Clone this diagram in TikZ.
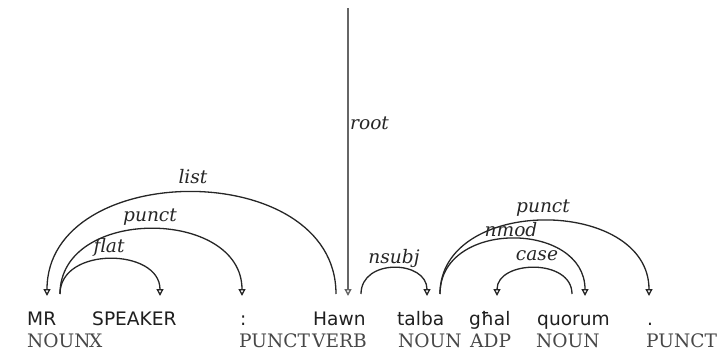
\documentclass[tikz,border=0pt]{standalone}
\usepackage{fontspec}
\setmainfont{DejaVu Serif}
\setsansfont{DejaVu Sans}
\usetikzlibrary{arrows.meta}
\begin{document}
\begin{tikzpicture}[x=1pt,y=-1pt,
  word/.style={anchor=base west,inner sep=0pt,font=\sffamily\fontsize{18.6}{22}\selectfont,text=black!88},
  tag/.style={anchor=base west,inner sep=0pt,font=\fontsize{18.6}{22}\selectfont,text=black!72},
  lbl/.style={inner sep=0pt,font=\itshape\fontsize{18.6}{22}\selectfont,text=black!85},
  deparc/.style={line width=1.3pt,draw=black!85,-{Triangle[open,length=7pt,width=7pt]}},
  rootline/.style={line width=1.4pt,draw=black!60,-{Triangle[open,length=7pt,width=7pt]}}]
\useasboundingbox (0,0) rectangle (718,351);
% words
\node[word] (w1) at (27,325) {MR};
\node[word] (w2) at (92,325) {SPEAKER};
\node[word] (w3) at (240,325) {:};
\node[word] (w4) at (313,325) {Hawn};
\node[word] (w5) at (397,325) {talba};
\node[word] (w6) at (469,325) {għal};
\node[word] (w7) at (537,325) {quorum};
\node[word] (w8) at (647,325) {.};
% tags
\node[tag] (t1) at (27,347) {NOUN};
\node[tag] (t2) at (89,347) {X};
\node[tag] (t3) at (239,347) {PUNCT};
\node[tag] (t4) at (312,347) {VERB};
\node[tag] (t5) at (398,347) {NOUN};
\node[tag] (t6) at (470,347) {ADP};
\node[tag] (t7) at (536,347) {NOUN};
\node[tag] (t8) at (646,347) {PUNCT};
% arc end points
\coordinate (mrIn) at (47,296);
\coordinate (mrOut) at (60,294);
\coordinate (spIn) at (160,296);
\coordinate (coIn) at (242,296);
\coordinate (haOut) at (336,294);
\coordinate (haIn) at (348,296);
\coordinate (haOut2) at (361,294);
\coordinate (taIn) at (427,296);
\coordinate (taOut) at (440,294);
\coordinate (ghIn) at (497,296);
\coordinate (quOut) at (572,294);
\coordinate (quIn) at (585,296);
\coordinate (dotIn) at (649,296);
\coordinate (roottop) at (348,8);
% arcs
\draw[rootline] (roottop) -- (haIn);
\draw[deparc] (mrOut) .. controls +(0,-48) and +(0,-48) .. (spIn);
\draw[deparc] (mrOut) .. controls +(0,-88) and +(0,-88) .. (coIn);
\draw[deparc] (haOut) .. controls +(0,-137) and +(0,-137) .. (mrIn);
\draw[deparc] (haOut2) .. controls +(0,-36) and +(0,-36) .. (taIn);
\draw[deparc] (quOut) .. controls +(0,-36) and +(0,-36) .. (ghIn);
\draw[deparc] (taOut) .. controls +(0,-75) and +(0,-75) .. (quIn);
\draw[deparc] (taOut) .. controls +(0,-99) and +(0,-99) .. (dotIn);
% labels
\node[lbl] (lflat) at (109,247) {flat};
\node[lbl] (lpunct1) at (150,217) {punct};
\node[lbl] (llist) at (193,177) {list};
\node[lbl] (lnsubj) at (394,258) {nsubj};
\node[lbl] (lcase) at (537,256) {case};
\node[lbl] (lnmod) at (511,230) {nmod};
\node[lbl] (lpunct2) at (543,208) {punct};
\node[lbl,anchor=west] (lroot) at (350,123) {root};
\end{tikzpicture}
\end{document}
